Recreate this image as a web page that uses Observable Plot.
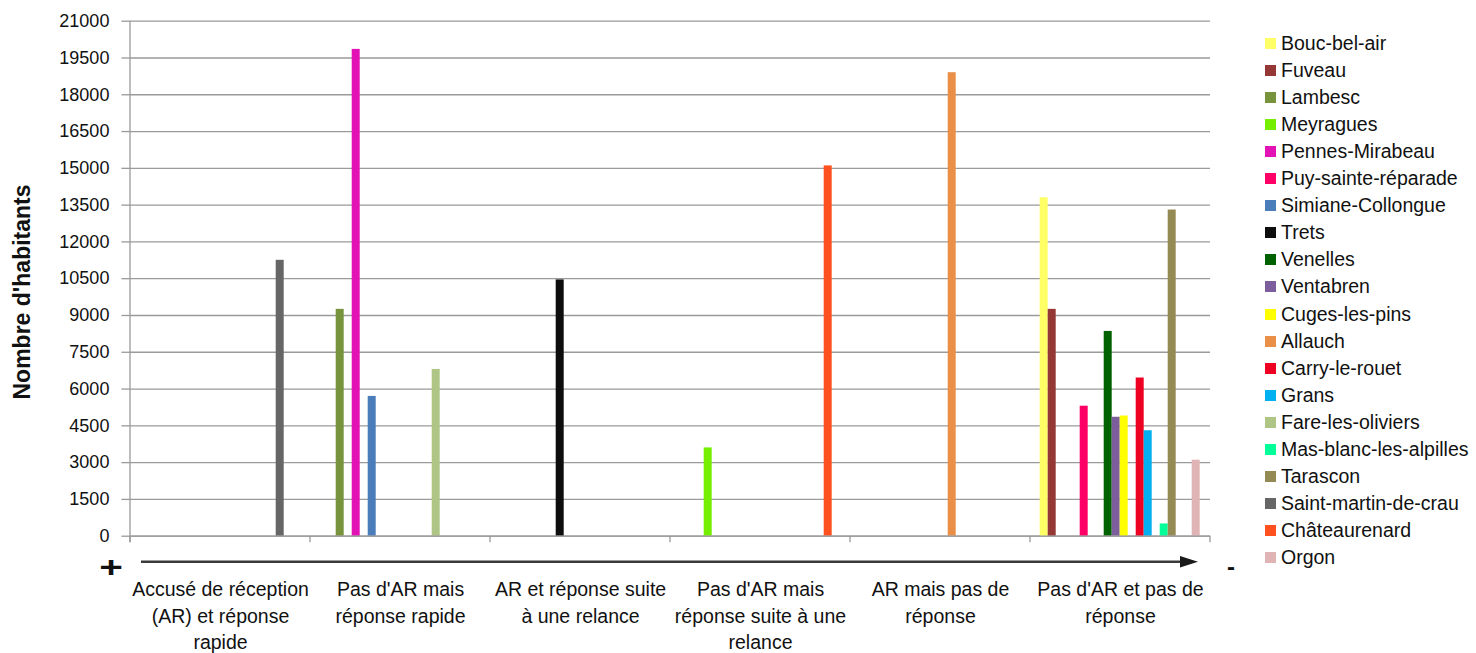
<!DOCTYPE html>
<html>
<head>
<meta charset="utf-8">
<script src="https://cdn.jsdelivr.net/npm/d3@7"></script>
<script src="https://cdn.jsdelivr.net/npm/@observablehq/plot@0.6"></script>
<style>
  html, body { margin: 0; padding: 0; background: #fff; }
  #wrap { position: relative; width: 1476px; height: 653px; overflow: hidden; font-family: "Liberation Sans", Arial, sans-serif; }
  #legend { position: absolute; left: 1265px; top: 0; }
  .row { position: absolute; left: 0; height: 27px; white-space: nowrap; font-size: 19.5px; color: #111; line-height: 27px; }
  .sw { position: absolute; left: 0; top: 8px; width: 11px; height: 11px; }
  .lbl { position: absolute; left: 16px; top: 0; }
  #ytitle { position: absolute; left: 22px; top: 292px; transform: translate(-50%, -50%) rotate(-90deg); font-weight: bold; font-size: 23px; color: #111; white-space: nowrap; }
  #deco { position: absolute; left: 0; top: 0; }
</style>
</head>
<body>
<div id="wrap">
  <div id="ytitle">Nombre d'habitants</div>
  <div id="legend"></div>
</div>
<script>
// ---- data ----
const categories = [
  "Accusé de réception (AR) et réponse rapide",
  "Pas d'AR mais réponse rapide",
  "AR et réponse suite à une relance",
  "Pas d'AR mais réponse suite à une relance",
  "AR mais pas de réponse",
  "Pas d'AR et pas de réponse"
];
const categoryLabels = [
  "Accusé de réception\n(AR) et réponse\nrapide",
  "Pas d'AR mais\nréponse rapide",
  "AR et réponse suite\nà une relance",
  "Pas d'AR mais\nréponse suite à une\nrelance",
  "AR mais pas de\nréponse",
  "Pas d'AR et pas de\nréponse"
];
const communes = [
  "Bouc-bel-air", "Fuveau", "Lambesc", "Meyragues", "Pennes-Mirabeau",
  "Puy-sainte-réparade", "Simiane-Collongue", "Trets", "Venelles", "Ventabren",
  "Cuges-les-pins", "Allauch", "Carry-le-rouet", "Grans", "Fare-les-oliviers",
  "Mas-blanc-les-alpilles", "Tarascon", "Saint-martin-de-crau", "Châteaurenard", "Orgon"
];
const colors = [
  "#FFFF66", "#953735", "#77933C", "#76EE00", "#E212B5",
  "#FF0066", "#4A7DB9", "#0D0D0D", "#006100", "#7B5E9B",
  "#FFFF00", "#EA8F48", "#EE0022", "#00B0F0", "#AEC585",
  "#00FF99", "#948A54", "#666666", "#FF5020", "#E0B4B4"
];
// values per category, in commune order
const arReponseRapide       = [0,0,0,0,0, 0,0,0,0,0, 0,0,0,0,0, 0,0,11250,0,0];
const pasArReponseRapide    = [0,0,9250,0,19850, 0,5700,0,0,0, 0,0,0,0,6800, 0,0,0,0,0];
const arReponseRelance      = [0,0,0,0,0, 0,0,10450,0,0, 0,0,0,0,0, 0,0,0,0,0];
const pasArReponseRelance   = [0,0,0,3600,0, 0,0,0,0,0, 0,0,0,0,0, 0,0,0,15100,0];
const arPasReponse          = [0,0,0,0,0, 0,0,0,0,0, 0,18900,0,0,0, 0,0,0,0,0];
const pasArPasReponse       = [13800,9250,0,0,0, 5300,0,0,8350,4850, 4900,0,6450,4300,0, 500,13300,0,0,3100];
const yTicks = [0,1500,3000,4500,6000,7500,9000,10500,12000,13500,15000,16500,18000,19500,21000];

const seriesByCategory = [arReponseRapide, pasArReponseRapide, arReponseRelance, pasArReponseRelance, arPasReponse, pasArPasReponse];
const table = [];
categories.forEach((cat, ci) => {
  communes.forEach((c, si) => {
    const v = seriesByCategory[ci][si];
    if (v > 0) table.push({cat, commune: c, value: v});
  });
});

// ---- layout ----
const W = 1476, H = 653;
const mL = 129.3, mR = 266, mT = 20.7, mB = 117.3;
const gray = "#9a9a9a";

const chart = Plot.plot({
  width: W, height: H,
  marginLeft: mL, marginRight: mR, marginTop: mT, marginBottom: mB,
  style: {fontFamily: "Liberation Sans, Arial, sans-serif", fontSize: "18px", color: "#111", background: "transparent", overflow: "visible"},
  fx: {domain: categories, padding: 0, axis: null, label: null},
  x: {domain: communes, paddingInner: 0, paddingOuter: 0.7, axis: null, label: null},
  y: {domain: [0, 21000], axis: null, label: null},
  color: {domain: communes, range: colors},
  marks: [
    Plot.gridY(yTicks, {stroke: gray, strokeOpacity: 1, strokeWidth: 1.3}),
    Plot.axisY(yTicks, {tickSize: 8.6, tickPadding: 12.5, stroke: gray, strokeWidth: 1.3, fontSize: 18, fill: "#111", tickFormat: d => String(d), label: null}),
    Plot.barY(table, {fx: "cat", x: "commune", y: "value", fill: "commune"}),
    Plot.ruleY([0], {stroke: gray, strokeWidth: 1.3}),
    // category labels
    Plot.text(categories, {fx: d => d, text: (d, i) => categoryLabels[i], frameAnchor: "bottom", lineAnchor: "top", dy: 41, fontSize: 19.5, lineHeight: 1.36, fill: "#111"})
  ]
});

const wrap = document.getElementById("wrap");
chart.style.position = "absolute";
chart.style.left = "0px";
chart.style.top = "0px";
wrap.insertBefore(chart, wrap.firstChild);

// value-axis line and category boundary ticks, from the facet scale
const fxScale = chart.scale("fx");
const yScale = chart.scale("y");
const bw = fxScale.bandwidth;
const edges = categories.map(c => fxScale.apply(c));
edges.push(edges[edges.length - 1] + bw);
const y0 = yScale.apply(0), yTop = yScale.apply(21000);

const deco = d3.select(wrap).append("svg").attr("id", "deco").attr("width", W).attr("height", H);
deco.append("line").attr("x1", edges[0]).attr("x2", edges[0]).attr("y1", yTop).attr("y2", y0 + 6.5)
  .attr("stroke", gray).attr("stroke-width", 1.3);
edges.forEach(e => {
  deco.append("line").attr("x1", e).attr("x2", e).attr("y1", y0).attr("y2", y0 + 6.5)
    .attr("stroke", gray).attr("stroke-width", 1.3);
});
// arrow, + and -
deco.append("line").attr("x1", 141).attr("x2", 1184).attr("y1", 561.7).attr("y2", 561.7)
  .attr("stroke", "#3a3a3a").attr("stroke-width", 2.6);
deco.append("path").attr("d", "M1180,556 L1198,561.7 L1180,567.4 Z").attr("fill", "#1a1a1a");
deco.append("text").attr("x", 111).attr("y", 567).attr("text-anchor", "middle").attr("dominant-baseline", "central")
  .attr("font-family", "Liberation Sans, Arial").attr("font-weight", "bold").attr("font-size", 30)
  .attr("transform", "translate(111,567) scale(1.35,1) translate(-111,-567)")
  .attr("fill", "#111").text("+");
deco.append("text").attr("x", 1231).attr("y", 566).attr("text-anchor", "middle").attr("dominant-baseline", "central")
  .attr("font-family", "Liberation Sans, Arial").attr("font-weight", "bold").attr("font-size", 24)
  .attr("fill", "#111").text("-");

// legend
const legend = d3.select("#legend");
communes.forEach((c, i) => {
  const row = legend.append("div").attr("class", "row").style("top", (43.5 + 27.05 * i - 13.5) + "px");
  row.append("div").attr("class", "sw").style("background", colors[i]);
  row.append("div").attr("class", "lbl").text(c);
});
</script>
</body>
</html>
